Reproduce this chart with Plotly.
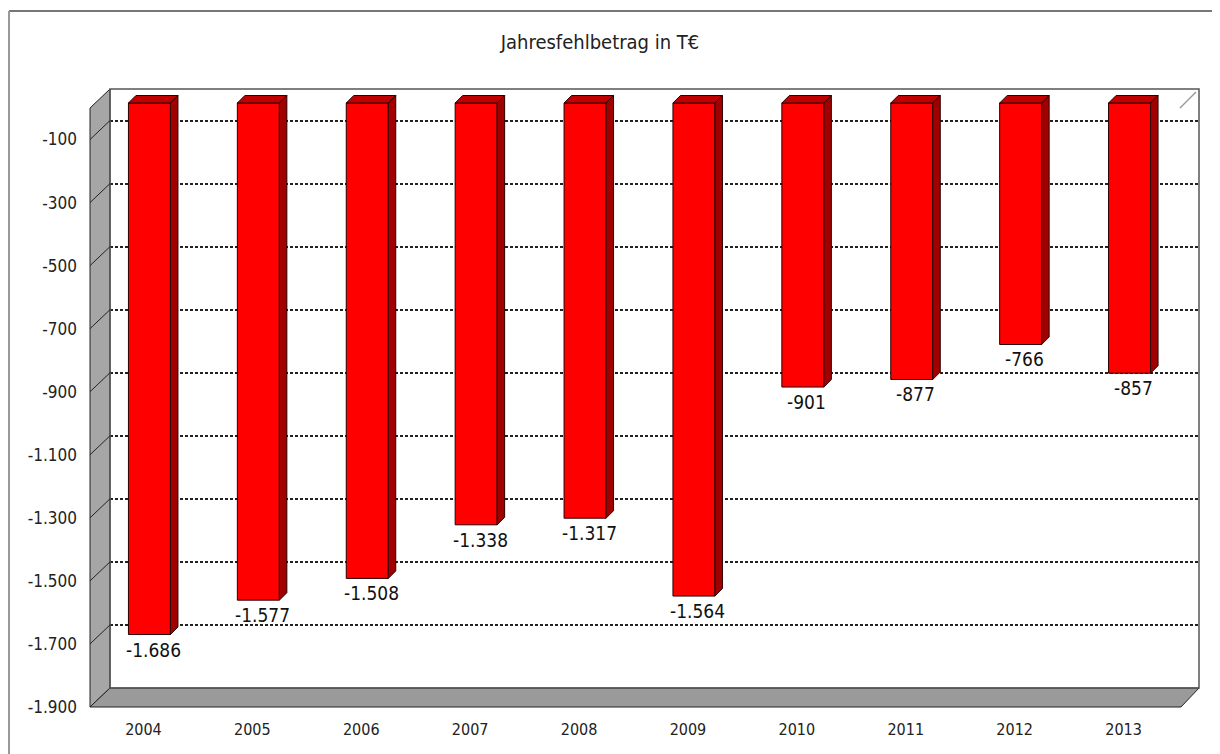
import plotly.graph_objects as go

# Daten: Jahresfehlbetrag in T€
years = ["2004", "2005", "2006", "2007", "2008", "2009", "2010", "2011", "2012", "2013"]
values = [-1686, -1577, -1508, -1338, -1317, -1564, -901, -877, -766, -857]
y_ticks = [-100, -300, -500, -700, -900, -1100, -1300, -1500, -1700, -1900]


def de(v):
    return f"{v:,}".replace(",", ".")


# Geometrie (Pixel) der pseudo-3D-Darstellung; die Seite hat 8 px Rand
W, H = 1212, 746
L, R, T, B = 102, 21, 81, 66
PW, PH = W - L - R, H - T - B
Y_MIN, Y_MAX = -1900, 0
KY = PH / (Y_MAX - Y_MIN)          # px pro T€
KX = PW / len(years)               # px pro Kategorie
WALL_DX, WALL_DY = 20, 19          # Tiefe der Wände
FRONT_DX, FRONT_DY = 15, 14        # Versatz der Balkenvorderseite
BAR_D = 7.5                        # Balkentiefe in px
BAR_W = 42 / KX

FONT = "DejaVu Sans Condensed, DejaVu Sans, sans-serif"


def pxx(x):
    return (x - L) / PW


def pyy(y):
    return (T + PH - y) / PH


xs = list(range(len(years)))

fig = go.Figure()

# Vorderseiten der Balken
fig.add_trace(go.Bar(
    x=xs, y=values, width=BAR_W, xaxis="x2", yaxis="y2",
    marker=dict(color="#FF0000", line=dict(color="#2a0000", width=1)),
    hovertemplate="%{x}<br>%{y}<extra></extra>",
))

# Ober- und Seitenflächen
ddx, ddy = BAR_D / KX, BAR_D / KY
top_x, top_y, side_x, side_y = [], [], [], []
for i, v in zip(xs, values):
    xl, xr = i - BAR_W / 2, i + BAR_W / 2
    top_x += [xl, xr, xr + ddx, xl + ddx, xl, None]
    top_y += [0, 0, ddy, ddy, 0, None]
    side_x += [xr, xr + ddx, xr + ddx, xr, xr, None]
    side_y += [0, ddy, v + ddy, v, 0, None]
for fx, fy, col in [(top_x, top_y, "#C00000"), (side_x, side_y, "#A00000")]:
    fig.add_trace(go.Scatter(
        x=fx, y=fy, xaxis="x2", yaxis="y2", mode="lines", fill="toself",
        fillcolor=col, line=dict(color="#2a0000", width=1),
        hoverinfo="skip", showlegend=False,
    ))

# Wertebeschriftung unter den Balken
annotations = [
    dict(x=i, y=v, xref="x2", yref="y2", text=de(v), showarrow=False,
         xanchor="center", yanchor="top", xshift=4, yshift=-2,
         font=dict(size=19, color="#111", family=FONT))
    for i, v in zip(xs, values)
]

shapes = []
# äußerer Rahmen
shapes.append(dict(type="line", xref="paper", yref="paper", x0=pxx(1), x1=pxx(W + 8),
                   y0=pyy(3), y1=pyy(3), line=dict(color="#777", width=2)))
shapes.append(dict(type="line", xref="paper", yref="paper", x0=pxx(1), x1=pxx(1),
                   y0=pyy(3), y1=pyy(H + 8), line=dict(color="#999", width=2)))
# linke Wand
lw = [(L - WALL_DX, T + WALL_DY), (L, T), (L, T + PH), (L - WALL_DX, T + PH + WALL_DY)]
shapes.append(dict(type="path", xref="paper", yref="paper", layer="below",
                   path="M" + " L".join(f"{pxx(a)},{pyy(b)}" for a, b in lw) + " Z",
                   fillcolor="#a6a6a6", line=dict(color="#222", width=1)))
# Boden
fl = [(L - WALL_DX, T + PH + WALL_DY), (L, T + PH), (L + PW, T + PH),
      (L + PW - 18, T + PH + WALL_DY)]
shapes.append(dict(type="path", xref="paper", yref="paper", layer="below",
                   path="M" + " L".join(f"{pxx(a)},{pyy(b)}" for a, b in fl) + " Z",
                   fillcolor="#9a9a9a", line=dict(color="#222", width=1)))
# Rückwand-Rahmen
shapes.append(dict(type="rect", xref="paper", yref="paper", x0=0, x1=1, y0=0, y1=1,
                   line=dict(color="#555", width=1.5)))
# Ecke oben rechts
shapes.append(dict(type="line", xref="paper", yref="paper",
                   x0=pxx(L + PW - 19), y0=pyy(T + 19), x1=pxx(L + PW - 3), y1=pyy(T + 3),
                   line=dict(color="#999", width=1.5)))
# Diagonalen an der linken Wand
for t in y_ticks:
    shapes.append(dict(type="line", xref="paper", yref="y", x0=0, y0=t,
                       x1=pxx(L - WALL_DX), y1=t - WALL_DY / KY,
                       line=dict(color="#222", width=1)))

fig.update_layout(
    width=W, height=H, autosize=False,
    margin=dict(l=L, r=R, t=T, b=B),
    paper_bgcolor="white", plot_bgcolor="white",
    showlegend=False,
    font=dict(family=FONT, color="#222"),
    title=dict(text="Jahresfehlbetrag in T€", x=592 / W, xanchor="center",
               y=1 - 34 / H, yanchor="middle", yref="container",
               font=dict(size=20, family=FONT, color="#222")),
    shapes=shapes,
    annotations=annotations,
    xaxis=dict(range=[-0.5, len(years) - 0.5], tickvals=xs, ticktext=years,
               showgrid=False, zeroline=False, showline=False, ticks="",
               tickfont=dict(size=16), ticklabelshift=-21, ticklabelstandoff=30,
               fixedrange=True),
    yaxis=dict(range=[Y_MIN, Y_MAX], tickvals=y_ticks, ticktext=[de(t) for t in y_ticks],
               showgrid=True, gridcolor="#222", gridwidth=1.5, griddash="3px,2px",
               zeroline=False, showline=False, ticks="",
               tickfont=dict(size=17), ticklabelshift=WALL_DY, ticklabelstandoff=32,
               fixedrange=True),
    xaxis2=dict(overlaying="x", range=[-0.5 + FRONT_DX / KX, len(years) - 0.5 + FRONT_DX / KX],
                visible=False, fixedrange=True),
    yaxis2=dict(overlaying="y", range=[Y_MIN + FRONT_DY / KY, Y_MAX + FRONT_DY / KY],
                visible=False, fixedrange=True),
)

fig.write_html("out.html")
